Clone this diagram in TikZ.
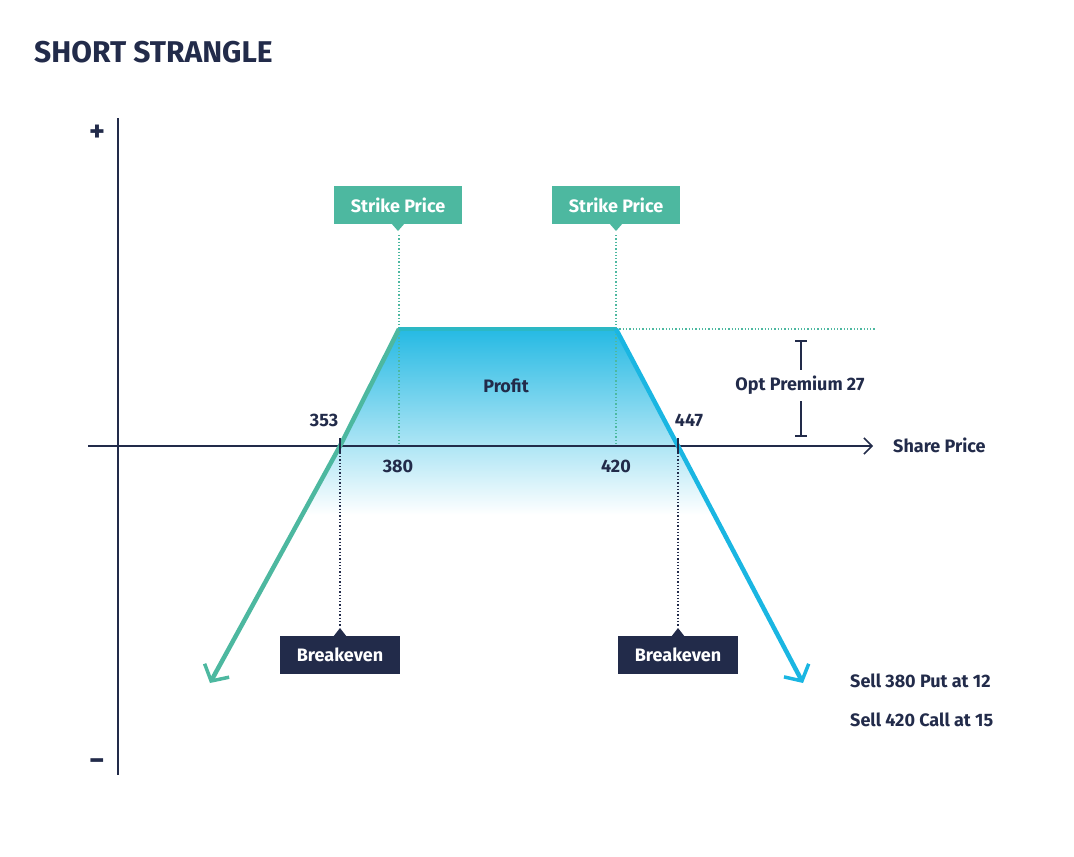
\documentclass[tikz,border=0pt]{standalone}
\usepackage{fontspec}
\setmainfont{Fira Sans}
\usetikzlibrary{arrows.meta,shapes.geometric}
\definecolor{navy}{HTML}{222B4A}
\definecolor{teal}{HTML}{4DB8A0}
\definecolor{cyanc}{HTML}{1AB6E2}
\definecolor{midc}{HTML}{2CB8C4}
\tikzset{
  lbl/.style={font=\fontsize{18}{20}\selectfont\bfseries, text=navy, inner sep=0pt},
  pay/.style={line width=4.5pt, line join=round},
  dotv/.style={dotted, line width=1.3pt},
  strikebox/.style={fill=teal, text=white, font=\fontsize{18}{20}\selectfont\bfseries, minimum width=128pt, minimum height=38pt, inner sep=0pt},
  bebox/.style={fill=navy, text=white, font=\fontsize{18}{20}\selectfont\bfseries, minimum width=120pt, minimum height=38pt, inner sep=0pt},
}
\begin{document}
\begin{tikzpicture}[x=1pt,y=-1pt]
\useasboundingbox (0,0) rectangle (1074,857);
\node[anchor=west, font=\fontsize{30}{32}\selectfont\bfseries, text=navy, inner sep=0pt] (title) at (34,52) {SHORT STRANGLE};
% coordinates
\coordinate (L0) at (210,683);
\coordinate (B1) at (340,446);
\coordinate (K1) at (399,329);
\coordinate (K2) at (616,329);
\coordinate (B2) at (678,446);
\coordinate (R0) at (803,683);
% fill
\shade[top color=cyanc!95, bottom color=white] (K1) -- (K2) -- (714,515) -- (305,515) -- cycle;
% axes
\coordinate (ytop) at (118,118); \coordinate (ybot) at (118,775);
\draw[navy, line width=1.5pt] (ytop) -- (ybot);
\coordinate (xl) at (88,446); \coordinate (xr) at (873,446);
\draw[navy, line width=1.5pt, -{Straight Barb[length=8pt,width=16pt,line width=1.5pt]}] (xl) -- (xr);
\node[font=\fontsize{30}{30}\selectfont\bfseries, text=navy] (plus) at (97,133) {+};
\node[font=\fontsize{30}{30}\selectfont\bfseries, text=navy] (minus) at (97,765) {−};
\node[lbl, anchor=west] (sp) at (893,445) {Share Price};
% dotted lines
\coordinate (s1) at (399,235); \coordinate (s2) at (616,235);
\coordinate (s1b) at (399,446); \coordinate (s2b) at (616,446);
\draw[dotv, teal] (s1) -- (s1b);
\draw[dotv, teal] (s2) -- (s2b);
\coordinate (hr) at (876,329);
\draw[dotv, teal] (K2) -- (hr);
\coordinate (b1d) at (340,627); \coordinate (b2d) at (678,627);
\draw[dotv, navy] (B1) -- (b1d);
\draw[dotv, navy] (B2) -- (b2d);
% payoff
\draw[pay, teal, {Straight Barb[length=12pt,width=28pt,line width=3.5pt]}-] (L0) -- (B1) -- (K1);
\draw[pay, midc] (K1) -- (K2);
\draw[pay, cyanc, -{Straight Barb[length=12pt,width=28pt,line width=3.5pt]}] (K2) -- (B2) -- (R0);
% ticks
\draw[navy, line width=1.5pt] (340,438) -- (340,454);
\draw[navy, line width=1.5pt] (678,438) -- (678,454);
% labels
\node[lbl] (l353) at (324,420) {353};
\node[lbl] (l447) at (689,420) {447};
\node[lbl] (l380) at (398,466) {380};
\node[lbl] (l420) at (616,466) {420};
\node[lbl] (profit) at (506,386) {Profit};
% strike boxes
\node[strikebox] (st1) at (398,205) {Strike Price};
\fill[teal] (391,223) -- (405,223) -- (398,231) -- cycle;
\node[strikebox] (st2) at (616,205) {Strike Price};
\fill[teal] (609,223) -- (623,223) -- (616,231) -- cycle;
% breakeven boxes
\node[bebox] (be1) at (340,655) {Breakeven};
\fill[navy] (333,637) -- (347,637) -- (340,628) -- cycle;
\node[bebox] (be2) at (678,655) {Breakeven};
\fill[navy] (671,637) -- (685,637) -- (678,628) -- cycle;
% premium bracket
\node[lbl] (prem) at (800,385) {Opt Premium 27};
\coordinate (pt) at (801,341); \coordinate (pb) at (801,436);
\draw[navy, line width=1.5pt] (pt) -- (801,370) (801,401) -- (pb);
\draw[navy, line width=1.5pt] (795,341) -- (807,341) (795,436) -- (807,436);
% notes
\node[lbl, anchor=west] (n1) at (850,681) {Sell 380 Put at 12};
\node[lbl, anchor=west] (n2) at (850,720) {Sell 420 Call at 15};
\end{tikzpicture}
\end{document}
